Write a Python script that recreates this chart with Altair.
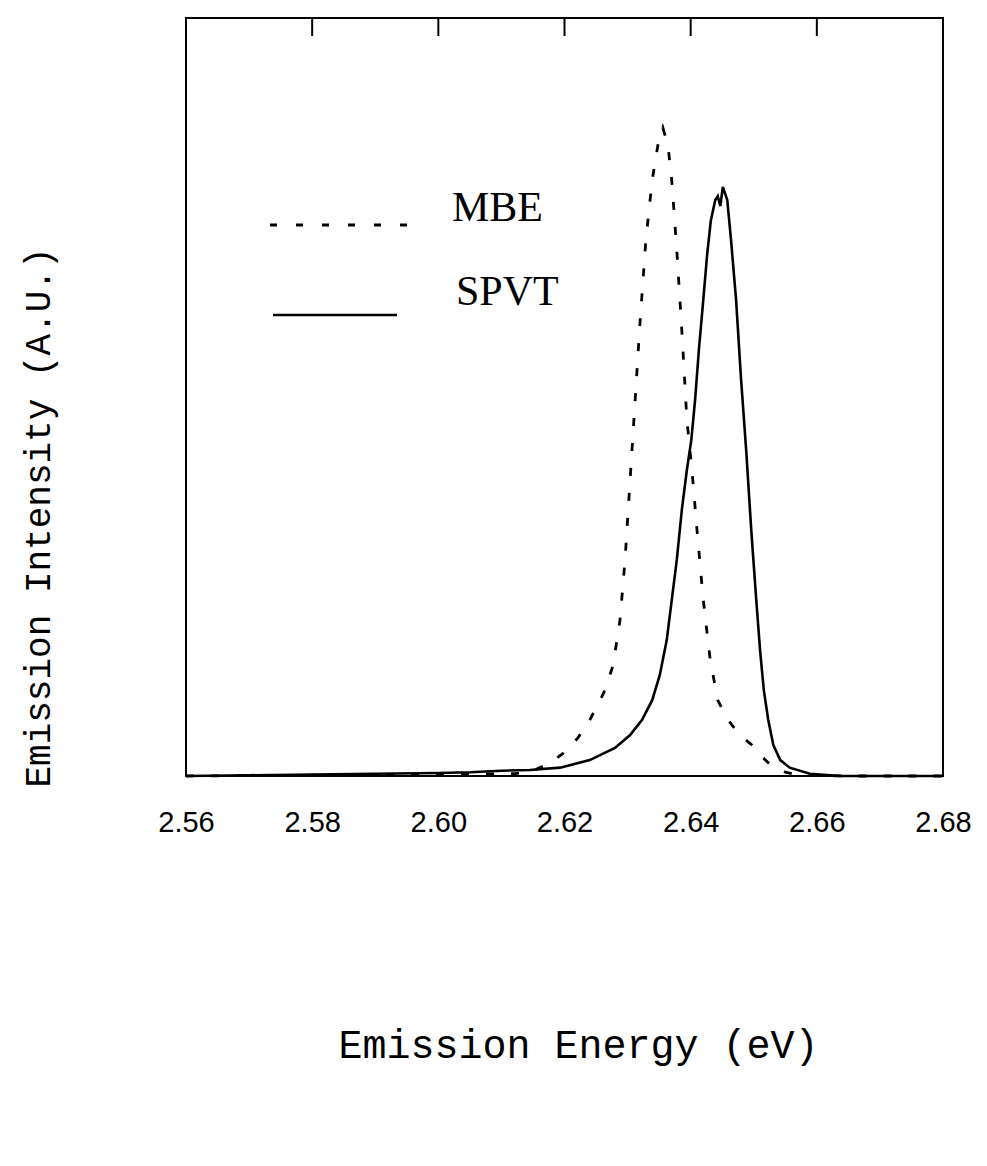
import altair as alt
import pandas as pd

# ---- data ----
mbe_energy = [2.560, 2.580, 2.600, 2.6122, 2.6153, 2.6177, 2.6201, 2.6221, 2.6240, 2.6253,
              2.6264, 2.6277, 2.6288, 2.6296, 2.6304, 2.6312, 2.6320, 2.6329, 2.6339, 2.6348,
              2.6356, 2.6364, 2.6370, 2.6378, 2.6386, 2.6394, 2.6402, 2.6410, 2.6420, 2.6431,
              2.6443, 2.6459, 2.6478, 2.6497, 2.6510, 2.6526, 2.6550, 2.6573, 2.665, 2.680]
mbe_intensity = [0.000, 0.001, 0.002, 0.003, 0.008, 0.017, 0.032, 0.050, 0.074, 0.094,
                 0.113, 0.146, 0.206, 0.285, 0.391, 0.496, 0.602, 0.707, 0.786, 0.832,
                 0.855, 0.832, 0.786, 0.694, 0.588, 0.470, 0.404, 0.325, 0.232, 0.153,
                 0.100, 0.074, 0.054, 0.041, 0.028, 0.015, 0.005, 0.001, 0.000, 0.000]

spvt_energy = [2.560, 2.570, 2.580, 2.590, 2.600, 2.605, 2.610, 2.6145, 2.6193, 2.6240, 2.6280,
               2.6304, 2.6323, 2.6339, 2.6351, 2.6362, 2.6370, 2.6378, 2.6386, 2.6394, 2.6401,
               2.6407, 2.6413, 2.6420, 2.6426, 2.6432, 2.6439, 2.6443, 2.6447, 2.6451, 2.6458,
               2.6464, 2.6472, 2.6480, 2.6488, 2.6496, 2.6504, 2.6510, 2.6516, 2.6523, 2.6531,
               2.6542, 2.6557, 2.6589, 2.6637, 2.680]
spvt_intensity = [0.000, 0.001, 0.002, 0.003, 0.004, 0.005, 0.007, 0.008, 0.011, 0.021, 0.037,
                  0.054, 0.074, 0.100, 0.133, 0.179, 0.232, 0.285, 0.351, 0.404, 0.443,
                  0.496, 0.562, 0.628, 0.687, 0.733, 0.760, 0.765, 0.752, 0.777, 0.760,
                  0.707, 0.628, 0.522, 0.430, 0.325, 0.232, 0.166, 0.113, 0.074, 0.041,
                  0.021, 0.011, 0.003, 0.000, 0.000]

x_ticks = [2.56, 2.58, 2.60, 2.62, 2.64, 2.66, 2.68]
top_ticks = [2.58, 2.60, 2.62, 2.64, 2.66]
legend_labels = ["MBE", "SPVT"]

mbe_df = pd.DataFrame({"energy": mbe_energy, "intensity": mbe_intensity})
spvt_df = pd.DataFrame({"energy": spvt_energy, "intensity": spvt_intensity})
tick_df = pd.DataFrame({"t": top_ticks})

x_scale = alt.Scale(domain=[2.56, 2.68], nice=False, zero=False)
y_scale = alt.Scale(domain=[0, 1], nice=False, zero=False)

x_axis = alt.Axis(values=x_ticks, format=".2f", title="Emission Energy (eV)",
                  grid=False, ticks=False, domain=False, labelFlush=False,
                  labelFont="Liberation Sans", labelFontSize=29, labelColor="black",
                  labelPadding=32,
                  titleFont="Liberation Mono", titleFontSize=40, titleFontWeight="normal",
                  titleColor="black", titleX=392, titleY=269,
                  titleAlign="center", titleBaseline="middle")
y_axis = alt.Axis(title="Emission Intensity (A.U.)", labels=False, ticks=False,
                  domain=False, grid=False,
                  titleFont="Liberation Mono", titleFontSize=36, titleFontWeight="normal",
                  titleColor="black", titleX=-148, titleY=499, titleAngle=270,
                  titleAlign="center", titleBaseline="middle")

mbe = alt.Chart(mbe_df).mark_line(color="black", strokeWidth=2.8, strokeDash=[8, 17]).encode(
    x=alt.X("energy:Q", scale=x_scale, axis=x_axis),
    y=alt.Y("intensity:Q", scale=y_scale, axis=y_axis),
)

spvt = alt.Chart(spvt_df).mark_line(color="black", strokeWidth=2.6).encode(
    x=alt.X("energy:Q", scale=x_scale),
    y=alt.Y("intensity:Q", scale=y_scale),
)

top_tick_marks = alt.Chart(tick_df).mark_rule(color="black", strokeWidth=2).encode(
    x=alt.X("t:Q", scale=x_scale),
    y=alt.value(0),
    y2=alt.value(18),
)

legend_mbe_line = alt.Chart(pd.DataFrame({"label": [legend_labels[0]]})).mark_rule(
    color="black", strokeWidth=2.8, strokeDash=[7, 19]).encode(
    x=alt.value(84), x2=alt.value(221), y=alt.value(207))
legend_spvt_line = alt.Chart(pd.DataFrame({"label": [legend_labels[1]]})).mark_rule(
    color="black", strokeWidth=2.6).encode(
    x=alt.value(87), x2=alt.value(211), y=alt.value(297))

legend_mbe_text = alt.Chart(pd.DataFrame({"label": [legend_labels[0]]})).mark_text(
    font="Liberation Serif", fontSize=42, align="left", baseline="middle", color="black").encode(
    text="label:N", x=alt.value(266), y=alt.value(190))
legend_spvt_text = alt.Chart(pd.DataFrame({"label": [legend_labels[1]]})).mark_text(
    font="Liberation Serif", fontSize=42, align="left", baseline="middle", color="black").encode(
    text="label:N", x=alt.value(270), y=alt.value(274))

chart = alt.layer(
    mbe, spvt, top_tick_marks,
    legend_mbe_line, legend_spvt_line, legend_mbe_text, legend_spvt_text,
).properties(
    width=757, height=758,
    autosize="none",
    padding={"left": 186, "top": 18, "right": 44, "bottom": 390},
    background="white",
).configure_view(
    stroke="black", strokeWidth=2,
)

chart.save("out.html", embed_options={"renderer": "svg", "actions": False})
